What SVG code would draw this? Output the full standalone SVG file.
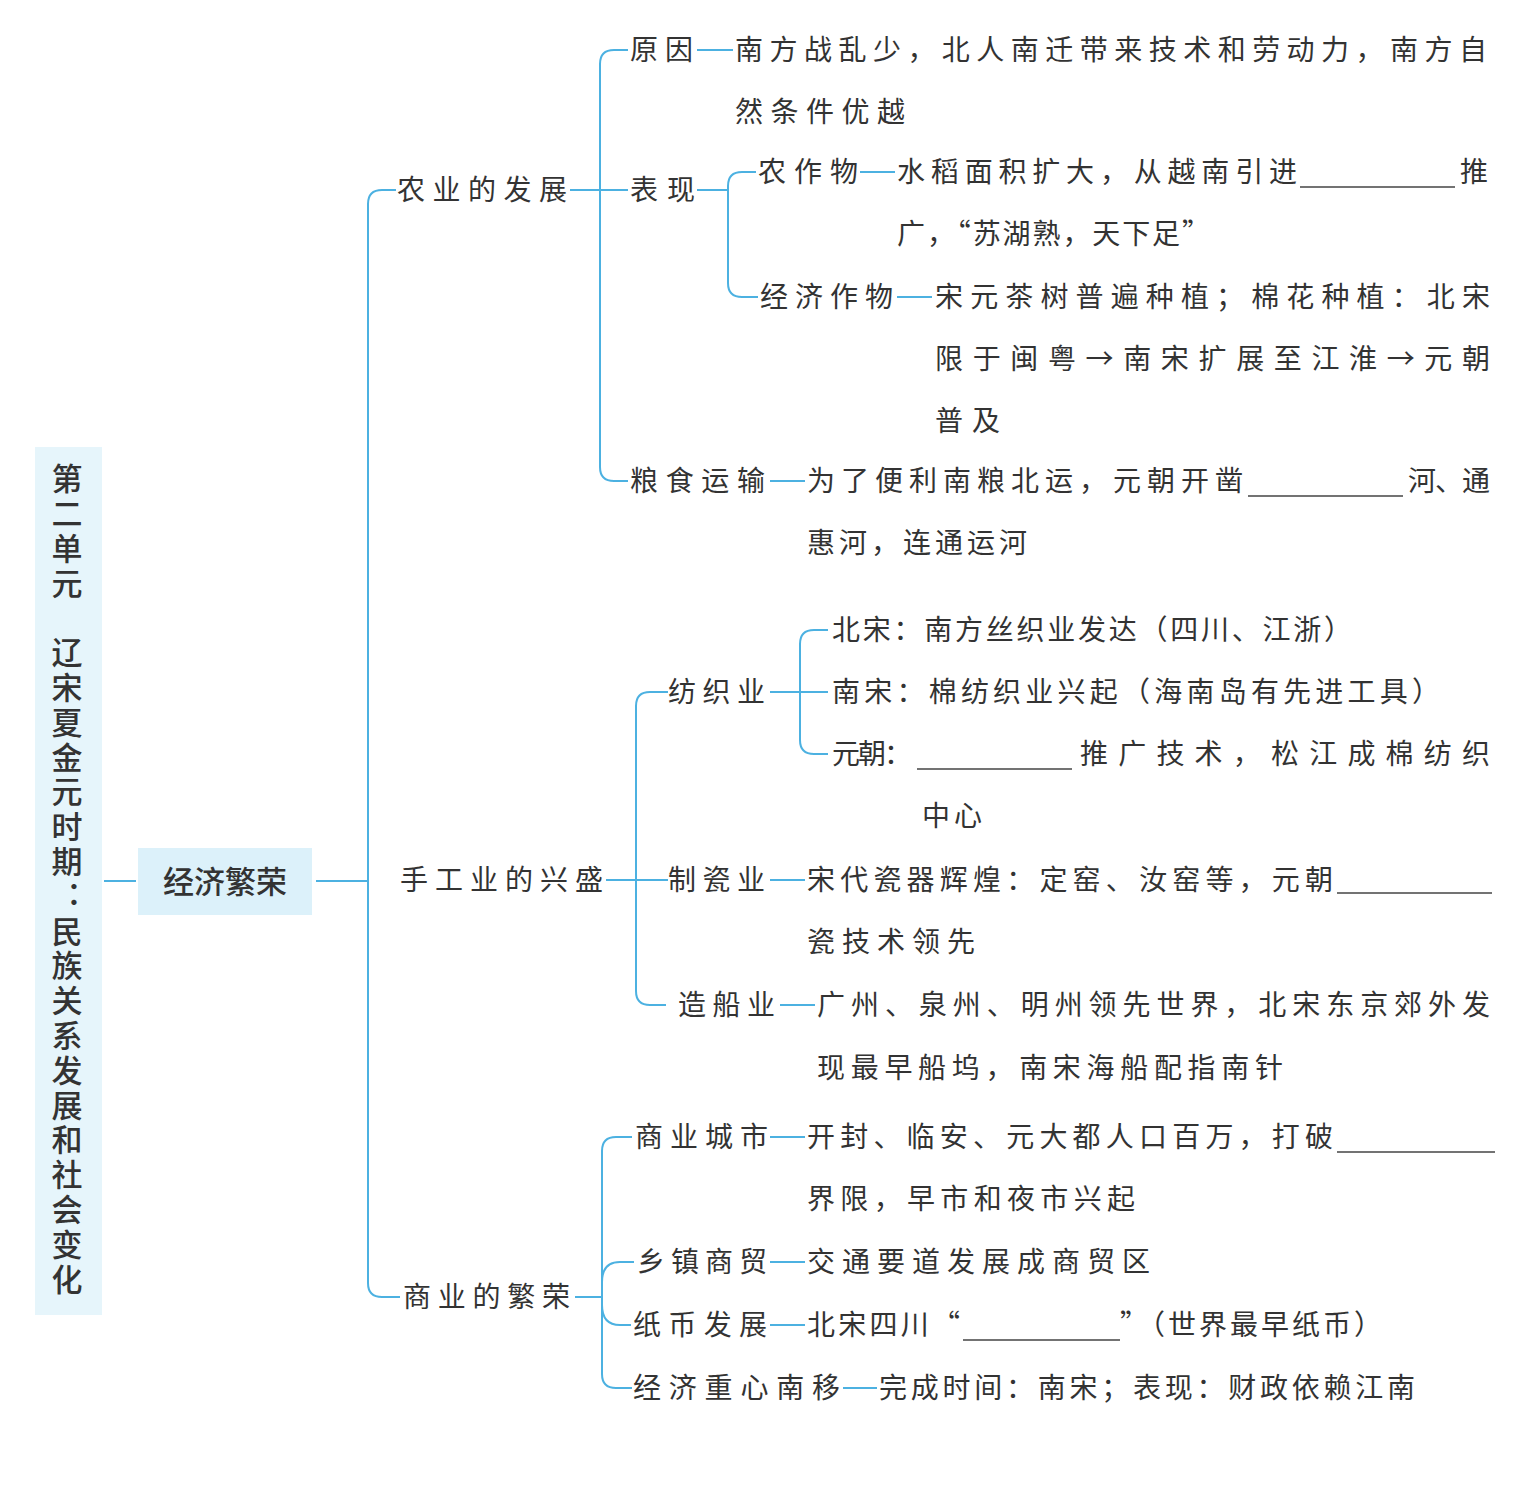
<svg xmlns="http://www.w3.org/2000/svg" width="1520" height="1487" viewBox="0 0 1520 1487">
<style>
.t{font-family:"Noto Sans CJK SC","Noto Sans",sans-serif;font-size:28px;fill:#333;}
.ttl{font-family:"Noto Sans CJK SC",sans-serif;font-size:31px;fill:#333;font-weight:500;}
.c{fill:none;stroke:#4cb1e1;stroke-width:2;}
.u{stroke:#444;stroke-width:1.6;}
</style>
<rect width="1520" height="1487" fill="#ffffff"/>

<g id="connectors">
<path class="c" d="M104,881 H136"/>
<path class="c" d="M316,881 H368"/>
<path class="c" d="M396,190 H382 Q368,190 368,204 V1283 Q368,1297 382,1297 H400"/>
<path class="c" d="M570,190 H628"/>
<path class="c" d="M628,50 H614 Q600,50 600,64 V467 Q600,481 614,481 H628"/>
<path class="c" d="M697,50 H733"/>
<path class="c" d="M697,190 H728"/>
<path class="c" d="M756,172 H742 Q728,172 728,186 V283 Q728,297 742,297 H758"/>
<path class="c" d="M860,172 H895"/>
<path class="c" d="M897,297 H932"/>
<path class="c" d="M770,481 H805"/>
<path class="c" d="M606,880 H668"/>
<path class="c" d="M668,692 H650 Q636,692 636,706 V991 Q636,1005 650,1005 H666"/>
<path class="c" d="M770,692 H828"/>
<path class="c" d="M828,630 H814 Q800,630 800,644 V740 Q800,754 814,754 H828"/>
<path class="c" d="M770,880 H805"/>
<path class="c" d="M780,1005 H815"/>
<path class="c" d="M575,1297 H602"/>
<path class="c" d="M632,1137 H616 Q602,1137 602,1151 V1374 Q602,1388 616,1388 H632"/>
<path class="c" d="M602,1282 Q602,1262 620,1262 H634"/>
<path class="c" d="M602,1305 Q602,1325 620,1325 H631"/>
<path class="c" d="M770,1137 H805"/>
<path class="c" d="M770,1262 H805"/>
<path class="c" d="M770,1325 H805"/>
<path class="c" d="M843,1388 H877"/>
</g>

<g id="title">
<rect x="35" y="447" width="67" height="868" fill="#e6f5fb"/>
<text class="ttl" x="67" y="463" writing-mode="vertical-rl" letter-spacing="3.8">第二单元　辽宋夏金元时期：民族关系发展和社会变化</text>
</g>

<g id="root">
<rect x="138" y="848" width="174" height="67" fill="#dcf1fa"/>
<text class="ttl" x="225" y="893" text-anchor="middle" font-weight="700" font-size="33">经济繁荣</text>
</g>

<g id="agri">
<text class="t" x="397" y="200" textLength="170" lengthAdjust="spacing">农业的发展</text>
</g>
<g id="agri-reason">
<text class="t" x="630" y="60" textLength="63" lengthAdjust="spacing">原因</text>
<text class="t" x="735" y="60" textLength="752" lengthAdjust="spacing">南方战乱少，北人南迁带来技术和劳动力，南方自</text>
<text class="t" x="735" y="122" textLength="170" lengthAdjust="spacing">然条件优越</text>
</g>
<g id="agri-show">
<text class="t" x="630" y="200" textLength="65" lengthAdjust="spacing">表现</text>
</g>
<g id="agri-crops">
<text class="t" x="758" y="182" textLength="100" lengthAdjust="spacing">农作物</text>
<text class="t" x="897" y="182" textLength="400" lengthAdjust="spacing">水稻面积扩大，从越南引进</text>
<line class="u" x1="1300" y1="187" x2="1455" y2="187"/>
<text class="t" x="1460" y="182">推</text>
<text class="t" x="897" y="244" textLength="313" lengthAdjust="spacing">广，“苏湖熟，天下足”</text>
</g>
<g id="agri-cash">
<text class="t" x="760" y="307" textLength="133" lengthAdjust="spacing">经济作物</text>
<text class="t" x="935" y="307" textLength="555" lengthAdjust="spacing">宋元茶树普遍种植；棉花种植：北宋</text>
<text class="t" x="935" y="369" textLength="555" lengthAdjust="spacing">限于闽粤→南宋扩展至江淮→元朝</text>
<text class="t" x="935" y="431" textLength="65" lengthAdjust="spacing">普及</text>
</g>
<g id="agri-grain">
<text class="t" x="630" y="491" textLength="135" lengthAdjust="spacing">粮食运输</text>
<text class="t" x="807" y="491" textLength="436" lengthAdjust="spacing">为了便利南粮北运，元朝开凿</text>
<line class="u" x1="1248" y1="496" x2="1403" y2="496"/>
<text class="t" x="1408" y="491" textLength="82" lengthAdjust="spacing">河、通</text>
<text class="t" x="807" y="553" textLength="220" lengthAdjust="spacing">惠河，连通运河</text>
</g>

<g id="craft">
<text class="t" x="400" y="890" textLength="203" lengthAdjust="spacing">手工业的兴盛</text>
</g>
<g id="craft-textile">
<text class="t" x="668" y="702" textLength="97" lengthAdjust="spacing">纺织业</text>
<text class="t" x="832" y="640" textLength="520" lengthAdjust="spacing">北宋：南方丝织业发达（四川、江浙）</text>
<text class="t" x="832" y="702" textLength="608" lengthAdjust="spacing">南宋：棉纺织业兴起（海南岛有先进工具）</text>
<text class="t" x="832" y="764" textLength="80" lengthAdjust="spacing">元朝：</text>
<line class="u" x1="917" y1="769" x2="1072" y2="769"/>
<text class="t" x="1080" y="764" textLength="410" lengthAdjust="spacing">推广技术，松江成棉纺织</text>
<text class="t" x="922" y="826" textLength="60" lengthAdjust="spacing">中心</text>
</g>
<g id="craft-porcelain">
<text class="t" x="668" y="890" textLength="97" lengthAdjust="spacing">制瓷业</text>
<text class="t" x="807" y="890" textLength="526" lengthAdjust="spacing">宋代瓷器辉煌：定窑、汝窑等，元朝</text>
<line class="u" x1="1337" y1="893" x2="1492" y2="893"/>
<text class="t" x="807" y="952" textLength="168" lengthAdjust="spacing">瓷技术领先</text>
</g>
<g id="craft-ship">
<text class="t" x="678" y="1015" textLength="97" lengthAdjust="spacing">造船业</text>
<text class="t" x="817" y="1015" textLength="673" lengthAdjust="spacing">广州、泉州、明州领先世界，北宋东京郊外发</text>
<text class="t" x="817" y="1078" textLength="466" lengthAdjust="spacing">现最早船坞，南宋海船配指南针</text>
</g>

<g id="commerce">
<text class="t" x="403" y="1307" textLength="167" lengthAdjust="spacing">商业的繁荣</text>
</g>
<g id="com-city">
<text class="t" x="635" y="1147" textLength="133" lengthAdjust="spacing">商业城市</text>
<text class="t" x="807" y="1147" textLength="526" lengthAdjust="spacing">开封、临安、元大都人口百万，打破</text>
<line class="u" x1="1337" y1="1152" x2="1495" y2="1152"/>
<text class="t" x="807" y="1209" textLength="328" lengthAdjust="spacing">界限，早市和夜市兴起</text>
</g>
<g id="com-town">
<text class="t" x="637" y="1272" textLength="130" lengthAdjust="spacing">乡镇商贸</text>
<text class="t" x="807" y="1272" textLength="343" lengthAdjust="spacing">交通要道发展成商贸区</text>
</g>
<g id="com-paper">
<text class="t" x="633" y="1335" textLength="134" lengthAdjust="spacing">纸币发展</text>
<text class="t" x="807" y="1335" textLength="153" lengthAdjust="spacing">北宋四川“</text>
<line class="u" x1="963" y1="1340" x2="1120" y2="1340"/>
<text class="t" x="1120" y="1335" textLength="262" lengthAdjust="spacing">”（世界最早纸币）</text>
</g>
<g id="com-shift">
<text class="t" x="633" y="1398" textLength="207" lengthAdjust="spacing">经济重心南移</text>
<text class="t" x="879" y="1398" textLength="536" lengthAdjust="spacing">完成时间：南宋；表现：财政依赖江南</text>
</g>
</svg>
